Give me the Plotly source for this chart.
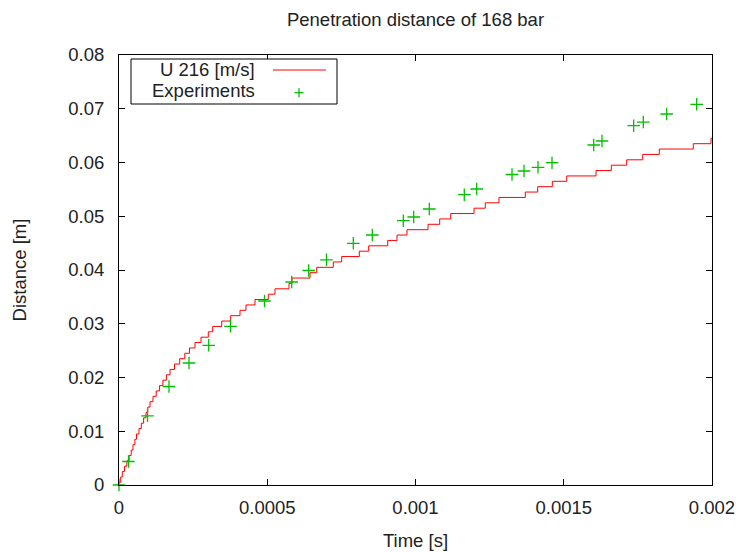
import plotly.graph_objects as go

# ---- data ----
step_time = [0, 5.7e-6, 1.11e-5, 1.85e-5, 2.63e-5, 3.41e-5, 4.11e-5, 4.72e-5, 5.36e-5, 5.90e-5,
             6.75e-5, 7.52e-5, 8.30e-5, 9.11e-5, 9.71e-5, 1.046e-4, 1.147e-4, 1.255e-4, 1.369e-4, 1.481e-4,
             1.599e-4, 1.720e-4, 1.872e-4, 2.047e-4, 2.219e-4, 2.378e-4, 2.563e-4, 2.766e-4, 3.012e-4, 3.160e-4,
             3.464e-4, 3.767e-4, 4.081e-4, 4.283e-4, 4.587e-4, 5.035e-4, 5.261e-4, 5.734e-4, 5.835e-4, 6.442e-4,
             6.668e-4, 7.228e-4, 7.511e-4, 8.105e-4, 8.422e-4, 9.062e-4, 9.376e-4, 9.713e-4, 1.0422e-3, 1.0816e-3,
             1.1187e-3, 1.1973e-3, 1.2354e-3, 1.2816e-3, 1.3703e-3, 1.4121e-3, 1.4614e-3, 1.5100e-3, 1.6088e-3, 1.6604e-3,
             1.7123e-3, 1.7663e-3, 1.8223e-3, 1.9369e-3, 1.9966e-3, 2.0e-3]
step_dist = [0.0005, 0.0015, 0.0025, 0.0035, 0.0045, 0.0055, 0.0065, 0.0075, 0.0085, 0.0095,
             0.0105, 0.0115, 0.0125, 0.0135, 0.0145, 0.0155, 0.0165, 0.0175, 0.0185, 0.0195,
             0.0205, 0.0215, 0.0225, 0.0235, 0.0245, 0.0255, 0.0265, 0.0275, 0.0285, 0.0295,
             0.0305, 0.0315, 0.0325, 0.0335, 0.0345, 0.0355, 0.0365, 0.0375, 0.0385, 0.0395,
             0.0405, 0.0415, 0.0425, 0.0435, 0.0445, 0.0455, 0.0465, 0.0475, 0.0485, 0.0495,
             0.0505, 0.0515, 0.0525, 0.0535, 0.0545, 0.0555, 0.0565, 0.0575, 0.0585, 0.0595,
             0.0605, 0.0615, 0.0625, 0.0635, 0.0645, 0.0645]

exp_time = [0, 3.20e-5, 9.61e-5, 1.686e-4, 2.361e-4, 3.025e-4, 3.761e-4, 4.907e-4, 5.825e-4, 6.398e-4,
            6.998e-4, 7.902e-4, 8.543e-4, 9.589e-4, 9.939e-4, 1.0465e-3, 1.1646e-3, 1.2064e-3, 1.3255e-3, 1.3659e-3,
            1.4132e-3, 1.4604e-3, 1.601e-3, 1.629e-3, 1.7359e-3, 1.7683e-3, 1.8472e-3, 1.9484e-3]
exp_dist = [0, 0.00437, 0.01287, 0.01833, 0.0227, 0.02599, 0.02953, 0.03423, 0.03777, 0.03991,
            0.0419, 0.04497, 0.04651, 0.04917, 0.04986, 0.05135, 0.05401, 0.05507, 0.05777, 0.05842,
            0.05911, 0.05996, 0.06326, 0.064, 0.06685, 0.06753, 0.06902, 0.07083]

x_ticks = [0, 0.0005, 0.001, 0.0015, 0.002]
x_tick_labels = ["0", "0.0005", "0.001", "0.0015", "0.002"]
y_ticks = [0, 0.01, 0.02, 0.03, 0.04, 0.05, 0.06, 0.07, 0.08]
y_tick_labels = ["0", "0.01", "0.02", "0.03", "0.04", "0.05", "0.06", "0.07", "0.08"]

series_names = ["U 216 [m/s]", "Experiments"]
RED = "#ff0000"
GREEN = "#00c000"
FONT = "Liberation Sans"
FS = 18.5
TXT = "#222222"

fig = go.Figure()
fig.add_trace(go.Scatter(x=step_time, y=step_dist, mode="lines", line=dict(color=RED, width=1, shape="hv"),
                         name=series_names[0], showlegend=False))
fig.add_trace(go.Scatter(x=exp_time, y=exp_dist, mode="markers",
                         marker=dict(symbol="cross-thin", size=9, color=GREEN, line=dict(color=GREEN, width=1.3)),
                         name=series_names[1], showlegend=False, cliponaxis=False))

# manual gnuplot-style legend (text then sample)
PW, PH = 593.0, 430.0
gx, gy = (299 - 119) / PW, (485 - 92.7) / PH
shapes = [
    dict(type="rect", xref="paper", yref="paper", x0=(131 - 119) / PW, x1=(337 - 119) / PW,
         y0=(485 - 104) / PH, y1=(485 - 59) / PH,
         line=dict(color="black", width=1), fillcolor="white", layer="above"),
    dict(type="line", xref="paper", yref="paper", x0=(273 - 119) / PW, x1=(326 - 119) / PW,
         y0=(485 - 70) / PH, y1=(485 - 70) / PH, line=dict(color=RED, width=1), layer="above"),
    dict(type="line", xref="paper", yref="paper", x0=gx - 4.5 / PW, x1=gx + 4.5 / PW,
         y0=gy, y1=gy, line=dict(color=GREEN, width=1.3), layer="above"),
    dict(type="line", xref="paper", yref="paper", x0=gx, x1=gx,
         y0=gy - 4.5 / PH, y1=gy + 4.5 / PH, line=dict(color=GREEN, width=1.3), layer="above"),
]
annotations = [
    dict(text=series_names[0], xref="paper", yref="paper", x=(257 - 119) / PW, y=(485 - 70) / PH,
         xanchor="right", yanchor="middle", showarrow=False, font=dict(family=FONT, size=FS, color=TXT)),
    dict(text=series_names[1], xref="paper", yref="paper", x=(257 - 119) / PW, y=(485 - 91) / PH,
         xanchor="right", yanchor="middle", showarrow=False, font=dict(family=FONT, size=FS, color=TXT)),
]

axis_common = dict(showline=True, linecolor="black", linewidth=1, mirror="ticks", ticks="inside",
                   ticklen=6, tickcolor="black", tickwidth=1, showgrid=False, zeroline=False,
                   automargin=False, tickfont=dict(family=FONT, size=FS, color=TXT))

fig.update_layout(
    width=738, height=552,
    margin=dict(l=119, r=26, t=55, b=67),
    paper_bgcolor="white", plot_bgcolor="white",
    title=dict(text="Penetration distance of 168 bar", x=0.5, xref="paper", xanchor="center",
               y=1 - 20 / 552, yref="container", yanchor="middle",
               font=dict(family=FONT, size=FS, color=TXT)),
    xaxis=dict(range=[0, 0.002], tickvals=x_ticks, ticktext=x_tick_labels,
               title=dict(text="Time [s]", font=dict(family=FONT, size=FS, color=TXT), standoff=16),
               ticklabelstandoff=6, **axis_common),
    yaxis=dict(range=[0, 0.08], tickvals=y_ticks, ticktext=y_tick_labels,
               title=dict(text="Distance [m]", font=dict(family=FONT, size=FS, color=TXT), standoff=36),
               ticklabelstandoff=10, **axis_common),
    shapes=shapes, annotations=annotations,
)

fig.write_html("out.html")
